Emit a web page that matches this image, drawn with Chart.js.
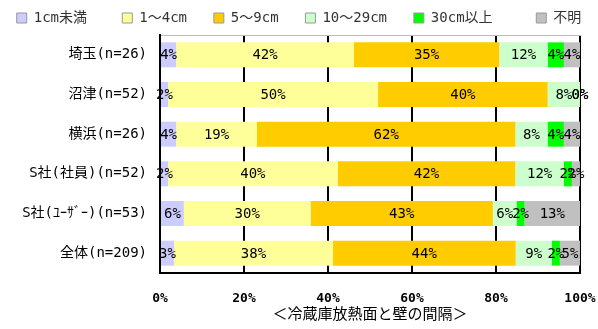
<!DOCTYPE html>
<html lang="ja">
<head>
<meta charset="utf-8">
<script src="https://cdn.jsdelivr.net/npm/chart.js@4"></script>
<style>
  html, body { margin: 0; padding: 0; background: #fff; }
  #wrap { width: 598px; height: 329px; }
</style>
</head>
<body>
<div id="wrap"><canvas id="c" width="598" height="329"></canvas></div>
<script>
// Survey groups (rows, top to bottom)
const categories = ['埼玉(n=26)', '沼津(n=52)', '横浜(n=26)', 'S社(社員)(n=52)', 'S社(ﾕｰｻﾞｰ)(n=53)', '全体(n=209)'];

// Share of each gap class per group, in percent
const under1cm  = [3.85, 1.92, 3.85, 1.92, 5.66, 3.35];
const cm1to4    = [42.31, 50.00, 19.23, 40.38, 30.19, 37.80];
const cm5to9    = [34.62, 40.38, 61.54, 42.31, 43.40, 43.54];
const cm10to29  = [11.54, 7.69, 7.69, 11.54, 5.66, 8.61];
const cm30plus  = [3.85, 0.00, 3.85, 1.92, 1.89, 1.91];
const unknown   = [3.85, 0.00, 3.85, 1.92, 13.21, 4.78];

const seriesNames = ['1cm未満', '1～4cm', '5～9cm', '10～29cm', '30cm以上', '不明'];
const seriesColors = ['#CCCCFF', '#FFFF99', '#FFCC00', '#CCFFCC', '#00FF00', '#C0C0C0'];
const seriesValues = [under1cm, cm1to4, cm5to9, cm10to29, cm30plus, unknown];
// extra trailing room after each legend entry
const legendGaps = [3, 2, 2, 2, 4, 0];

const xTicks = [0, 20, 40, 60, 80, 100];
const axisTitle = '＜冷蔵庫放熱面と壁の間隔＞';

const FONT = "'DejaVu Sans Mono', 'Noto Sans CJK JP', monospace";

// Percent labels centred on each stacked segment
const segmentLabels = {
  id: 'segmentLabels',
  afterDatasetsDraw(chart) {
    const ctx = chart.ctx;
    ctx.save();
    ctx.font = '14px ' + FONT;
    ctx.fillStyle = '#000';
    ctx.textAlign = 'center';
    ctx.textBaseline = 'middle';
    chart.data.datasets.forEach((ds, di) => {
      const meta = chart.getDatasetMeta(di);
      meta.data.forEach((bar, i) => {
        const p = bar.getProps(['x', 'y', 'base'], true);
        const cx = (p.x + p.base) / 2;
        ctx.fillText(Math.round(ds.data[i]) + '%', cx, p.y + 1);
      });
    });
    ctx.restore();
  }
};

new Chart(document.getElementById('c'), {
  type: 'bar',
  data: {
    labels: categories,
    datasets: seriesNames.map((name, k) => ({
      label: name,
      data: seriesValues[k],
      backgroundColor: seriesColors[k],
      borderWidth: 0,
      barPercentage: 0.63,
      categoryPercentage: 1.0
    }))
  },
  options: {
    indexAxis: 'y',
    responsive: false,
    animation: false,
    devicePixelRatio: 1,
    layout: { padding: { left: 0, right: 0, top: 1, bottom: 0 } },
    plugins: {
      tooltip: { enabled: false },
      legend: {
        position: 'top',
        labels: {
          font: { size: 14, family: FONT },
          color: '#333',
          boxWidth: 10,
          boxHeight: 10,
          padding: 10,
          generateLabels(chart) {
            const items = Chart.defaults.plugins.legend.labels.generateLabels(chart);
            items.forEach((it, k) => {
              it.strokeStyle = '#999';
              it.lineWidth = 1;
              it.text = it.text + ' '.repeat(legendGaps[k]);
            });
            return items;
          }
        }
      }
    },
    scales: {
      x: {
        type: 'linear',
        stacked: true,
        min: 0,
        max: 100,
        position: 'bottom',
        afterBuildTicks(scale) { scale.ticks = xTicks.map(v => ({ value: v })); },
        afterFit(scale) { scale.height = 56; },
        ticks: {
          padding: 0,
          color: '#000',
          font: { size: 13, family: FONT, weight: 'bold' },
          callback: v => v + '%'
        },
        grid: { color: '#000', lineWidth: 2, drawTicks: true, tickLength: 18, tickColor: 'rgba(0,0,0,0)' },
        border: { display: true, color: '#000', width: 2 },
        title: {
          display: true,
          text: axisTitle,
          color: '#000',
          font: { size: 15, family: FONT },
          padding: { top: 0, bottom: 5 }
        }
      },
      xTop: {
        type: 'linear',
        axis: 'x',
        position: 'top',
        min: 0,
        max: 100,
        ticks: { display: false },
        grid: { display: false, drawTicks: false },
        border: { display: true, color: '#bbb', width: 1 }
      },
      y: {
        stacked: true,
        afterFit(scale) { scale.width = 160; },
        ticks: {
          padding: 13,
          color: '#000',
          font: { size: 14, family: FONT }
        },
        grid: { display: false, drawTicks: false },
        border: { display: true, color: '#000', width: 2 }
      },
      // empty strip on the right edge of the plot
      yRight: {
        type: 'category',
        axis: 'y',
        position: 'right',
        afterFit(scale) { scale.width = 18; },
        ticks: { display: false },
        grid: { display: false, drawTicks: false },
        border: { display: false }
      }
    }
  },
  plugins: [segmentLabels]
});
</script>
</body>
</html>
